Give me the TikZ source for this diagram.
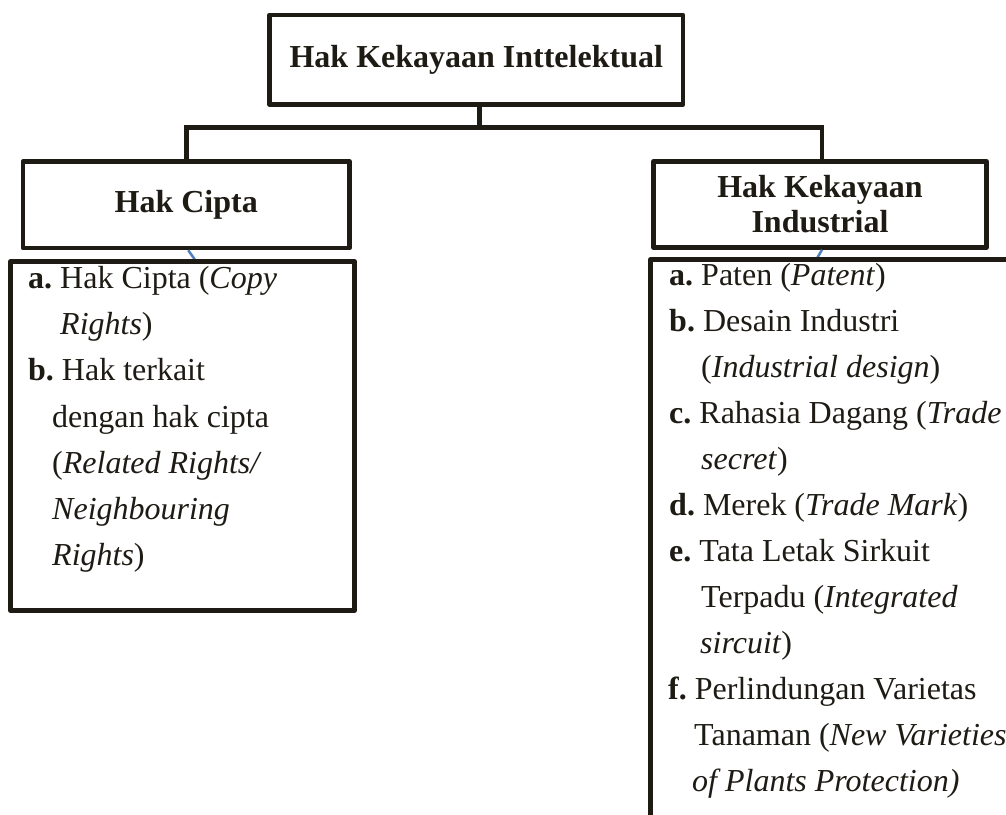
\documentclass[tikz,border=0pt]{standalone}
\usepackage{fontspec}
\setmainfont{Liberation Serif}
\definecolor{ink}{RGB}{30,27,20}
\definecolor{linkblue}{RGB}{79,129,189}
\frenchspacing
\begin{document}
\begin{tikzpicture}[x=1pt,y=-1pt,
  box/.style={draw=ink, line width=4.5pt, line join=round, fill=white, inner sep=0pt,
    text=ink, font=\bfseries\fontsize{32}{35}\selectfont, align=center},
  listbox/.style={draw=ink, line width=4.5pt, line join=round, fill=white, inner sep=0pt},
  conn/.style={draw=ink, line width=4.5pt},
  bluelink/.style={draw=linkblue, line width=2.5pt},
  item/.style={anchor=base west, inner sep=0pt, text=ink, font=\fontsize{32}{38}\selectfont}]
\useasboundingbox (0,0) rectangle (1006,814);
\clip (0,0) rectangle (1006,814);
\fill[white] (0,0) rectangle (1006,814);
\coordinate (bus) at (479.5,127.5);
% header boxes
\node[box, minimum width=413.5pt, minimum height=89.5pt] (top) at (476.25,59.75) {Hak Kekayaan Inttelektual};
\node[box, minimum width=326.5pt, minimum height=86.5pt] (hc) at (186.25,204.75) {Hak Cipta};
\node[box, minimum width=333pt, minimum height=86pt] (hki) at (820,204.5) {Hak Kekayaan\\Industrial};
% connectors
\draw[conn] (bus |- top.south) -- (bus);
\draw[conn] (hc.north) -- (hc.north |- bus) -- ([xshift=2pt]hki.north |- bus) -- ([xshift=2pt]hki.north);
% blue links
\draw[bluelink] ([xshift=2pt]hc.south) -- ([xshift=12pt,yshift=-14pt]hc.south);
\draw[bluelink] ([xshift=2pt]hki.south) -- ([xshift=-5pt,yshift=-12pt]hki.south);
% list boxes
\node[listbox, minimum width=344pt, minimum height=349pt] (lc) at (182.5,436) {};
\node[listbox, minimum width=379.5pt, minimum height=590.5pt] (lki) at (840.25,554.75) {};
% left list text
\node[item] (l1) at (28,288) {\textbf{a.} Hak Cipta (\textit{Copy}};
\node[item] (l2) at (60,334) {\textit{Rights})};
\node[item] (l3) at (28,380) {\textbf{b.} Hak terkait};
\node[item] (l4) at (52,427) {dengan hak cipta};
\node[item] (l5) at (52,473) {(\textit{Related Rights/}};
\node[item] (l6) at (52,519) {\textit{Neighbouring}};
\node[item] (l7) at (52,565) {\textit{Rights})};
% right list text
\node[item] (r1) at (669,285) {\textbf{a.} Paten (\textit{Patent})};
\node[item] (r2) at (669,331) {\textbf{b.} Desain Industri};
\node[item] (r3) at (701,377) {(\textit{Industrial design})};
\node[item] (r4) at (669,423) {\textbf{c.} Rahasia Dagang (\textit{Trade}};
\node[item] (r5) at (701,469) {\textit{secret})};
\node[item] (r6) at (669,515) {\textbf{d.} Merek (\textit{Trade Mark})};
\node[item] (r7) at (669,561) {\textbf{e.} Tata Letak Sirkuit};
\node[item] (r8) at (701,607) {Terpadu (\textit{Integrated}};
\node[item] (r9) at (700,653) {\textit{sircuit})};
\node[item] (r10) at (668,699) {\textbf{f.} Perlindungan Varietas};
\node[item] (r11) at (694,745) {Tanaman (\textit{New Varieties}};
\node[item] (r12) at (692,791) {\textit{of Plants Protection)}};
\end{tikzpicture}
\end{document}
